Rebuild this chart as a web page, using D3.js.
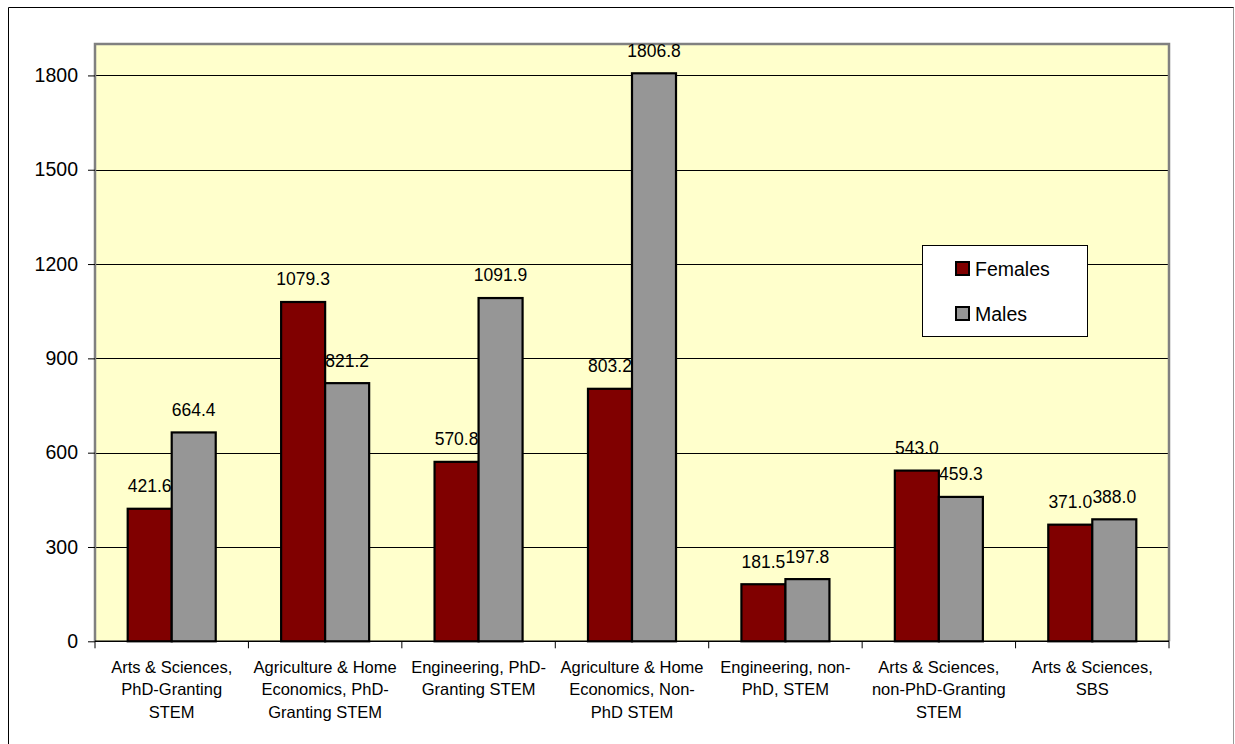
<!DOCTYPE html>
<html>
<head>
<meta charset="utf-8">
<script src="https://cdn.jsdelivr.net/npm/d3@7"></script>
<style>
  html, body { margin: 0; padding: 0; background: #ffffff; }
  svg { display: block; }
  text { font-family: "Liberation Sans", Arial, sans-serif; fill: #000; }
</style>
</head>
<body>
<svg id="chart" width="1235" height="744"></svg>
<script>
const categories = [
  ["Arts & Sciences,", "PhD-Granting", "STEM"],
  ["Agriculture & Home", "Economics, PhD-", "Granting STEM"],
  ["Engineering, PhD-", "Granting STEM"],
  ["Agriculture & Home", "Economics, Non-", "PhD STEM"],
  ["Engineering, non-", "PhD, STEM"],
  ["Arts & Sciences,", "non-PhD-Granting", "STEM"],
  ["Arts & Sciences,", "SBS"]
];
const seriesNames = ["Females", "Males"];
const females = [421.6, 1079.3, 570.8, 803.2, 181.5, 543.0, 371.0];
const males = [664.4, 821.2, 1091.9, 1806.8, 197.8, 459.3, 388.0];
const yTicks = [0, 300, 600, 900, 1200, 1500, 1800];
const yMax = 1900;
const colors = ["#800000", "#969696"];

const svg = d3.select("#chart");
const L = 95, R = 1169, T = 44, B = 641.3;

// outer chart border
svg.append("line").attr("x1", 8.5).attr("y1", 7.5).attr("x2", 1234).attr("y2", 7.5).attr("stroke", "#000").attr("stroke-width", 1);
svg.append("line").attr("x1", 8.5).attr("y1", 7.5).attr("x2", 8.5).attr("y2", 744).attr("stroke", "#000").attr("stroke-width", 1);
svg.append("line").attr("x1", 1233.5).attr("y1", 7.5).attr("x2", 1233.5).attr("y2", 744).attr("stroke", "#999").attr("stroke-width", 1);

const catIdx = categories.map((c, i) => i);
const x0 = d3.scaleBand().domain(catIdx).range([L, R]).paddingInner(0).paddingOuter(0);
const x1 = d3.scaleBand().domain(seriesNames).range([0, x0.bandwidth()]).paddingInner(0).paddingOuter(0.743);
const y = d3.scaleLinear().domain([0, yMax]).range([B, T]);

// plot background
svg.append("rect").attr("x", L).attr("y", T).attr("width", R - L).attr("height", B - T).attr("fill", "#FFFFCC");

// gridlines
svg.append("g").selectAll("line").data(yTicks.filter(d => d > 0)).join("line")
  .attr("x1", L).attr("x2", R)
  .attr("y1", d => Math.round(y(d)) + 0.5).attr("y2", d => Math.round(y(d)) + 0.5)
  .attr("stroke", "#000").attr("stroke-width", 1);

// plot border (gray)
svg.append("path")
  .attr("d", `M${L},${B} L${L},${T} L${R},${T} L${R},${B}`)
  .attr("fill", "none").attr("stroke", "#808080").attr("stroke-width", 2.5);

// Y axis
const yAxis = d3.axisLeft(y).tickValues(yTicks).tickSize(7).tickPadding(10).tickFormat(d3.format("d"));
const gy = svg.append("g").attr("transform", `translate(${L},0)`).call(yAxis);
gy.select(".domain").remove();
gy.selectAll(".tick line").attr("stroke", "#000");
gy.selectAll(".tick text").style("font-size", "19.5px").attr("fill", "#000");

// X axis line and ticks
svg.append("line").attr("x1", L).attr("x2", R).attr("y1", B).attr("y2", B).attr("stroke", "#000").attr("stroke-width", 1.5);
const bounds = catIdx.map(i => x0(i)).concat([R]);
svg.append("g").selectAll("line").data(bounds).join("line")
  .attr("x1", d => d).attr("x2", d => d).attr("y1", B).attr("y2", B + 7)
  .attr("stroke", "#000").attr("stroke-width", 1);

// category labels
const catG = svg.append("g");
categories.forEach((lines, i) => {
  const t = catG.append("text")
    .attr("x", x0(i) + x0.bandwidth() / 2)
    .attr("y", 672.7)
    .attr("text-anchor", "middle")
    .style("font-size", "16.5px");
  lines.forEach((ln, j) => {
    t.append("tspan").attr("x", x0(i) + x0.bandwidth() / 2).attr("dy", j === 0 ? 0 : 22.4).text(ln);
  });
});

// bars & labels per series (labels of first series drawn before second series bars)
[females, males].forEach((vals, s) => {
  const g = svg.append("g");
  g.selectAll("rect").data(vals).join("rect")
    .attr("x", (d, i) => x0(i) + x1(seriesNames[s]))
    .attr("y", d => y(d))
    .attr("width", x1.bandwidth())
    .attr("height", d => B - y(d))
    .attr("fill", colors[s])
    .attr("stroke", "#000").attr("stroke-width", 2.2);
  g.selectAll("text").data(vals).join("text")
    .attr("x", (d, i) => x0(i) + x1(seriesNames[s]) + x1.bandwidth() / 2)
    .attr("y", d => y(d) - 16.6)
    .attr("text-anchor", "middle")
    .style("font-size", "17.5px")
    .text(d => d.toFixed(1));
});

// legend
const lg = svg.append("g");
lg.append("rect").attr("x", 922.5).attr("y", 245.5).attr("width", 165).attr("height", 91)
  .attr("fill", "#fff").attr("stroke", "#000").attr("stroke-width", 1);
seriesNames.forEach((n, i) => {
  const yy = 262 + i * 45;
  lg.append("rect").attr("x", 956).attr("y", yy).attr("width", 13).attr("height", 13)
    .attr("fill", colors[i]).attr("stroke", "#000").attr("stroke-width", 2);
  lg.append("text").attr("x", 975).attr("y", yy + 14).style("font-size", "19.5px").text(n);
});
</script>
</body>
</html>
